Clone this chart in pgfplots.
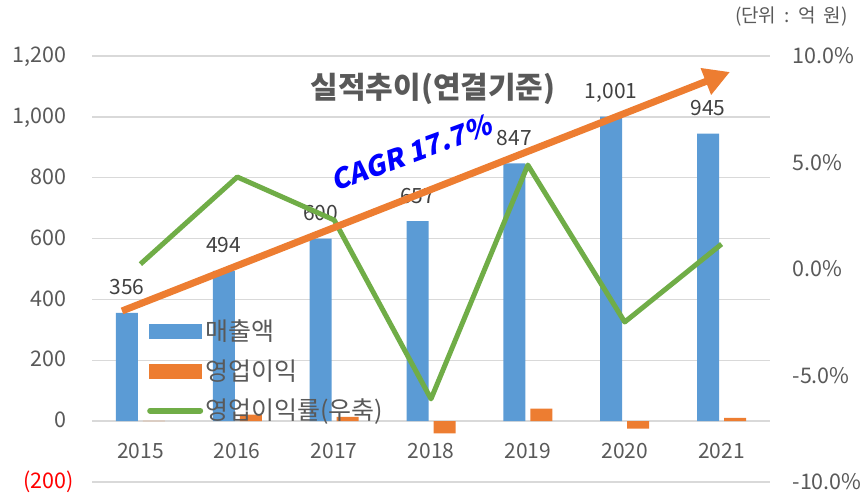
\documentclass[border=0pt]{standalone}
\usepackage{fontspec}
\setmainfont{Noto Sans CJK KR}
\newfontfamily\cagrfont{Noto Sans CJK KR}[FakeSlant=0.2]
\usepackage{pgfplots}
\pgfplotsset{compat=1.18}
\usetikzlibrary{arrows.meta}
\definecolor{barblue}{HTML}{5B9BD5}
\definecolor{barorange}{HTML}{ED7D31}
\definecolor{lngreen}{HTML}{70AD47}
\definecolor{labelgray}{HTML}{595959}
\definecolor{datagray}{HTML}{404040}
\definecolor{gridgray}{HTML}{D9D9D9}
\begin{document}
\begin{tikzpicture}
\useasboundingbox (-92pt,-12pt) rectangle (769pt,482pt);
\begin{axis}[
  scale only axis, width=678pt, height=426pt,
  xmin=-0.5, xmax=6.5, ymin=-200, ymax=1200,
  axis y line*=left, axis x line*=bottom,
  axis line style={draw=none},
  major tick length=0pt,
  xtick={0,...,6}, xticklabels={2015,2016,2017,2018,2019,2020,2021},
  ytick={-200,0,200,400,600,800,1000,1200},
  yticklabels={\textcolor{red}{(200)},0\phantom{)},200\phantom{)},400\phantom{)},600\phantom{)},800\phantom{)},{1,000\phantom{)}},{1,200\phantom{)}}},
  ymajorgrids, grid style={draw=gridgray, line width=1.5pt},
  tick label style={text=labelgray},
  xticklabel style={anchor=base, yshift=23pt, font=\fontsize{21}{25}\selectfont},
  yticklabel style={anchor=east, xshift=-14.5pt, font=\fontsize{21.5}{25}\selectfont},
  ybar, bar width=22pt,
  clip=false,
]
\addplot[fill=barblue, draw=none, bar shift=-13.5pt,
  nodes near coords={\pgfmathprintnumber[fixed,precision=0,1000 sep={,},assume math mode=true]{\pgfplotspointmeta}},
  nodes near coords style={inner sep=0pt, text depth=0pt, yshift=18pt, font=\fontsize{21}{25}\selectfont, text=datagray}]
  coordinates {(0,356) (1,494) (2,600) (3,657) (4,847) (5,1001) (6,945)};
\addplot[fill=barorange, draw=none, bar shift=13.5pt]
  coordinates {(0,1) (1,21) (2,14) (3,-40) (4,41) (5,-25) (6,11)};
\end{axis}
\begin{axis}[
  scale only axis, width=678pt, height=426pt,
  xmin=-0.5, xmax=6.5, ymin=-10, ymax=10,
  axis y line*=right, axis x line=none,
  axis line style={draw=none},
  major tick length=0pt,
  ytick={-10,-5,0,5,10},
  yticklabels={-10.0\%,-5.0\%,0.0\%,5.0\%,10.0\%},
  yticklabel style={anchor=west, xshift=19pt, font=\fontsize{21.5}{25}\selectfont, text=labelgray},
  clip=false,
  legend cell align=left,
  legend style={at={(0.0811,0.375)}, anchor=north west, draw=none, fill=none, inner sep=0pt,
    row sep=21pt, column sep=2pt,
    nodes={inner sep=0pt, text height=18.5pt, text depth=0pt, font=\fontsize{25}{29}\selectfont, text=labelgray}},
]
\addlegendimage{legend image code/.code={\fill[barblue] (0pt,-7pt) rectangle (52pt,7pt);}}
\addlegendentry{매출액}
\addlegendimage{legend image code/.code={\fill[barorange] (0pt,-7pt) rectangle (52pt,7pt);}}
\addlegendentry{영업이익}
\addlegendimage{legend image code/.code={\draw[lngreen, line width=6pt, line cap=round] (1pt,0pt) -- (51pt,0pt);}}
\addlegendentry{영업이익률(우축)}
\addplot[lngreen, line width=5pt, line join=round, forget plot]
  coordinates {(0,0.23) (1,4.32) (2,2.3) (3,-6.1) (4,4.88) (5,-2.49) (6,1.17)};
\draw[barorange, line width=7pt, -{Triangle[length=26pt,width=27pt]}] (axis cs:-0.19,-1.97) -- (axis cs:6.087,9.25);
\end{axis}
\node[text=labelgray, font=\bfseries\fontsize{30}{34}\selectfont] at (341pt,393pt) {실적추이(연결기준)};
\node[rotate=20, text=blue, font=\cagrfont\bfseries\fontsize{27.5}{32}\selectfont] at (319pt,329pt) {CAGR 17.7\%};
\node[anchor=east, inner sep=0pt, text=labelgray, font=\fontsize{19}{22}\selectfont] at (756pt,465pt) {(단위\hspace{0.45em}:\hspace{0.45em}억\hspace{0.4em}원)};
\end{tikzpicture}
\end{document}
